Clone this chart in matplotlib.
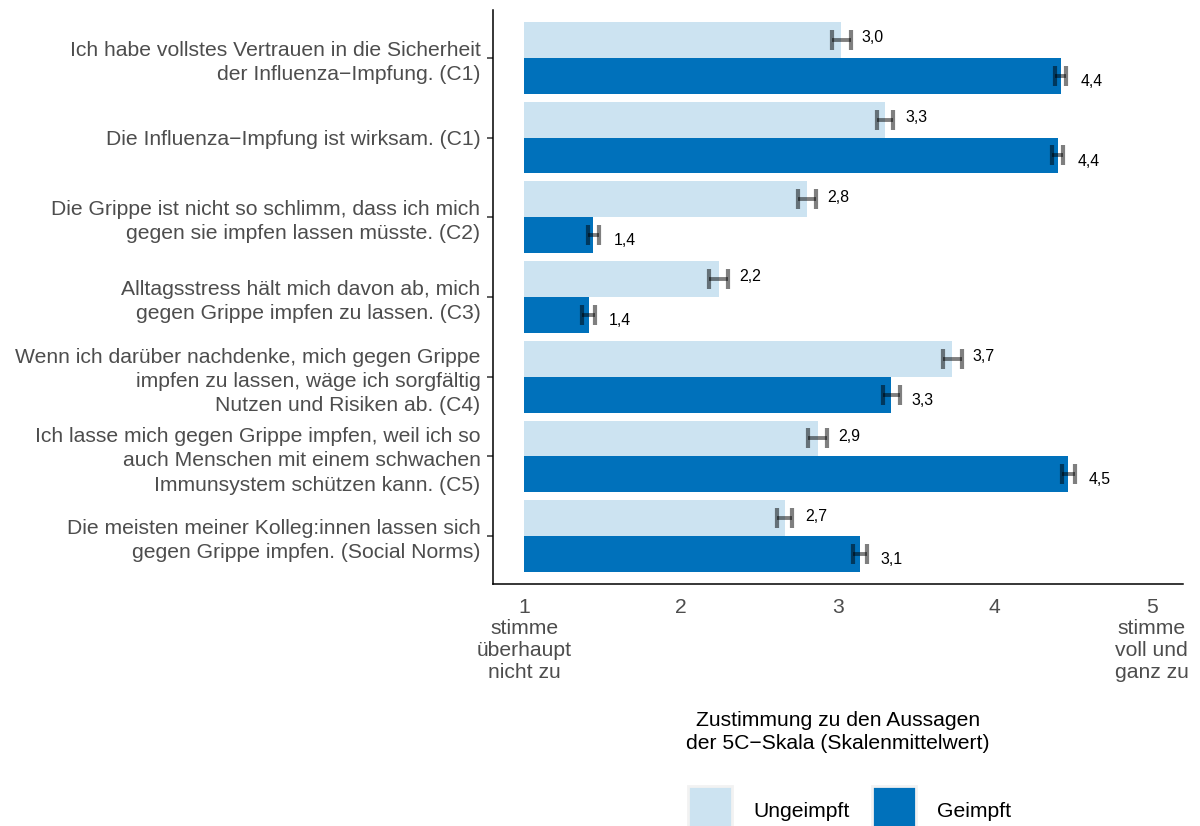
import matplotlib
matplotlib.use("Agg")
import matplotlib.pyplot as plt
from matplotlib.patches import Patch
import numpy as np

plt.rcParams["font.family"] = ["Liberation Sans", "DejaVu Sans"]

# Aussagen der 5C-Skala, von oben nach unten
aussagen = [
    "Ich habe vollstes Vertrauen in die Sicherheit\nder Influenza\u2212Impfung. (C1)",
    "Die Influenza\u2212Impfung ist wirksam. (C1)",
    "Die Grippe ist nicht so schlimm, dass ich mich\ngegen sie impfen lassen müsste. (C2)",
    "Alltagsstress hält mich davon ab, mich\ngegen Grippe impfen zu lassen. (C3)",
    "Wenn ich darüber nachdenke, mich gegen Grippe\nimpfen zu lassen, wäge ich sorgfältig\nNutzen und Risiken ab. (C4)",
    "Ich lasse mich gegen Grippe impfen, weil ich so\nauch Menschen mit einem schwachen\nImmunsystem schützen kann. (C5)",
    "Die meisten meiner Kolleg:innen lassen sich\ngegen Grippe impfen. (Social Norms)",
]

# Skalenmittelwerte und halbe Konfidenzintervalle
mw_ungeimpft = [3.02, 3.30, 2.80, 2.24, 3.73, 2.87, 2.66]
ci_ungeimpft = [0.060, 0.052, 0.057, 0.060, 0.060, 0.062, 0.048]
mw_geimpft = [4.42, 4.40, 1.44, 1.41, 3.34, 4.47, 3.14]
ci_geimpft = [0.036, 0.036, 0.036, 0.040, 0.055, 0.043, 0.045]

x_ticks = [1, 2, 3, 4, 5]
x_ticklabels = ["1\nstimme\nüberhaupt\nnicht zu", "2", "3", "4", "5\nstimme\nvoll und\nganz zu"]

HELL = "#CCE3F1"
DUNKEL = "#0071BB"
GRAU = "#4D4D4D"

fig = plt.figure(figsize=(12, 8.26), dpi=100)
ax = fig.add_axes([0.4108, 0.2930, 0.575, 0.6949])

y = np.arange(len(aussagen))
h = 0.45
basis = 1.0

gruppen = [
    (mw_ungeimpft, ci_ungeimpft, HELL, -h / 2, "Ungeimpft", 1.5),
    (mw_geimpft, ci_geimpft, DUNKEL, h / 2, "Geimpft", -4),
]
for mw, ci, farbe, dy, name, ty in gruppen:
    mw = np.array(mw)
    ax.barh(y + dy, mw - basis, left=basis, height=h, color=farbe, label=name)
    ax.errorbar(mw, y + dy, xerr=ci, fmt="none", ecolor="black", alpha=0.5,
                elinewidth=2.8, capsize=7.5, capthick=3.0)
    for yi, v in zip(y + dy, mw):
        ax.annotate(f"{v:.1f}".replace(".", ","), (v + 0.2, yi), xytext=(0, ty),
                    textcoords="offset points", ha="center", va="center",
                    fontsize=11.4, color="black")

ax.set_xlim(0.8, 5.2)
ax.set_ylim(len(aussagen) - 0.4, -0.6)
ax.set_yticks(y)
ax.set_yticklabels(aussagen, fontsize=15.2, color=GRAU, linespacing=1.34)
ax.set_xticks(x_ticks)
ax.set_xticklabels(x_ticklabels, fontsize=15.2, color=GRAU, linespacing=1.17)
ax.tick_params(axis="x", length=0, pad=10)
ax.tick_params(axis="y", length=4, width=1.1, color="#333333", pad=5)

for s in ["top", "right"]:
    ax.spines[s].set_visible(False)
for s in ["left", "bottom"]:
    ax.spines[s].set_linewidth(1.1)
    ax.spines[s].set_color("black")

ax.set_xlabel("Zustimmung zu den Aussagen\nder 5C\u2212Skala (Skalenmittelwert)",
              fontsize=15.2, color="black", labelpad=21, linespacing=1.3)

handles = [Patch(facecolor=HELL, edgecolor="#F2F2F2", linewidth=2, label="Ungeimpft"),
           Patch(facecolor=DUNKEL, edgecolor="#F2F2F2", linewidth=2, label="Geimpft")]
fig.legend(handles=handles, loc="center", bbox_to_anchor=(0.708, 0.018), ncol=2,
           frameon=False, fontsize=15.2, handlelength=2.1, handleheight=3.3,
           handletextpad=1.0, columnspacing=1.05)

fig.savefig("out.png", dpi=100)
